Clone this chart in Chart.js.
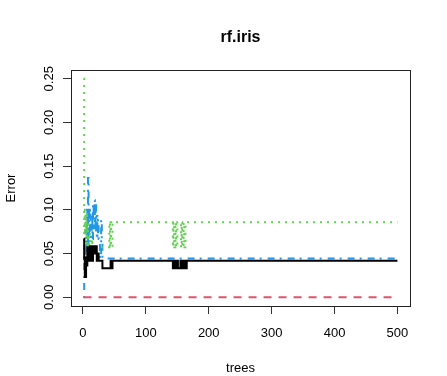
<!DOCTYPE html>
<html>
<head>
<meta charset="utf-8">
<script src="https://cdn.jsdelivr.net/npm/chart.js@4"></script>
<style>
  body { margin: 0; background: #fff; }
  canvas { display: block; }
</style>
</head>
<body>
<canvas id="chart" width="447" height="376"></canvas>
<script>
// randomForest error rates by number of trees (change points only, each value holds until the next tree listed)
const oobTrees = [1, 2, 3, 5, 6, 7, 8, 9, 10, 11, 12, 13, 14, 15, 16, 17, 18, 19, 20, 22, 24, 25, 31, 44, 45, 47,
  143, 144, 145, 146, 147, 150, 151, 155, 156, 158, 160, 162, 163, 165, 500];
const oobErr = [0.0667, 0.0435, 0.0233, 0.0455, 0.0364, 0.0571, 0.0417, 0.05, 0.0417, 0.0583, 0.0417, 0.0583, 0.05, 0.0417, 0.0583, 0.05, 0.0583, 0.05, 0.0583, 0.0417, 0.05, 0.0417, 0.0333, 0.0417, 0.0333, 0.0417,
  0.0333, 0.0417, 0.0333, 0.0417, 0.0333, 0.0417, 0.0333, 0.0417, 0.0333, 0.0417, 0.0333, 0.0417, 0.0333, 0.0417, 0.0417];

const setosaTrees = [1, 500];
const setosaErr = [0, 0];

const versicolorTrees = [1, 2, 3, 4, 5, 6, 7, 8, 10, 11, 14, 15, 42, 43, 44, 45, 47,
  143, 144, 145, 147, 148, 150, 156, 157, 158, 160, 161, 163, 500];
const versicolorErr = [0.25, 0.0588, 0.1, 0.0714, 0.0952, 0.0571, 0.0833, 0.0571, 0.0741, 0.0571, 0.0667, 0.0571, 0.0857, 0.0571, 0.0857, 0.0571, 0.0857,
  0.0571, 0.0857, 0.0571, 0.0857, 0.0571, 0.0857, 0.0571, 0.0857, 0.0571, 0.0857, 0.0571, 0.0857, 0.0857];

const virginicaTrees = [1, 2, 3, 4, 5, 6, 7, 8, 9, 10, 11, 12, 13, 14, 15, 16, 17, 18, 19, 20, 21, 22, 23, 24, 25, 27, 29, 30, 31, 500];
const virginicaErr = [0, 0.0588, 0.0455, 0.0769, 0.0455, 0.1, 0.0588, 0.1364, 0.0625, 0.1, 0.0741, 0.0968, 0.069, 0.0938, 0.0667, 0.1081, 0.0789, 0.1111, 0.0811, 0.1053, 0.0698, 0.093, 0.0682, 0.0889, 0.0667, 0.0444, 0.0889, 0.0667, 0.0444, 0.0444];

const xTicks = [0, 100, 200, 300, 400, 500];
const yTicks = [0, 0.05, 0.1, 0.15, 0.2, 0.25];
const yTickLabels = ['0.00', '0.05', '0.10', '0.15', '0.20', '0.25'];

const FONT = '"Liberation Sans", Arial, sans-serif';

function toPoints(trees, values) {
  return trees.map((t, i) => ({ x: t, y: values[i] }));
}

const series = (label, trees, values, color, dash) => ({
  label,
  data: toPoints(trees, values),
  borderColor: color,
  borderWidth: 2,
  borderDash: dash,
  stepped: true,
  pointRadius: 0,
  fill: false,
});

// box, title and rotated y labels (R style)
const rDecor = {
  id: 'rDecor',
  beforeDraw(chart) {
    const ctx = chart.ctx;
    ctx.save();
    ctx.fillStyle = '#fff';
    ctx.fillRect(0, 0, chart.width, chart.height);
    ctx.restore();
  },
  afterDraw(chart) {
    const { ctx, chartArea } = chart;
    const yScale = chart.scales.y;
    ctx.save();
    ctx.strokeStyle = '#222';
    ctx.lineWidth = 1;
    ctx.strokeRect(Math.round(chartArea.left) + 0.5, Math.round(chartArea.top) + 0.5,
      Math.round(chartArea.right - chartArea.left), Math.round(chartArea.bottom - chartArea.top));

    ctx.fillStyle = '#000';
    ctx.font = 'bold 16px ' + FONT;
    ctx.textAlign = 'center';
    ctx.textBaseline = 'alphabetic';
    ctx.fillText('rf.iris', (chartArea.left + chartArea.right) / 2, 42);

    ctx.font = '13px ' + FONT;
    yTicks.forEach((v, i) => {
      const py = yScale.getPixelForValue(v);
      ctx.save();
      ctx.translate(53, py);
      ctx.rotate(-Math.PI / 2);
      ctx.textAlign = 'center';
      ctx.textBaseline = 'alphabetic';
      ctx.fillText(yTickLabels[i], 0, 0);
      ctx.restore();
    });
    ctx.restore();
  }
};

new Chart(document.getElementById('chart'), {
  type: 'line',
  data: {
    datasets: [
      series('OOB', oobTrees, oobErr, '#000000', []),
      series('setosa', setosaTrees, setosaErr, '#DF536B', [8, 7]),
      series('versicolor', versicolorTrees, versicolorErr, '#61D04F', [2, 5]),
      series('virginica', virginicaTrees, virginicaErr, '#2297E6', [2, 6, 7, 5]),
    ]
  },
  options: {
    responsive: false,
    animation: false,
    devicePixelRatio: 1,
    layout: { padding: { top: 70, right: 37, bottom: 0, left: 0 } },
    plugins: {
      legend: { display: false },
      title: { display: false },
      tooltip: { enabled: false },
    },
    scales: {
      x: {
        type: 'linear',
        min: -18.96,
        max: 519.96,
        afterBuildTicks: (scale) => { scale.ticks = xTicks.map(v => ({ value: v })); },
        afterFit: (scale) => { scale.height = 70; },
        grid: { display: true, drawOnChartArea: false, drawTicks: true, tickLength: 8, color: '#333' },
        border: { display: false },
        ticks: { color: '#000', font: { family: FONT, size: 13 }, padding: 12, maxRotation: 0, autoSkip: false },
        title: { display: true, text: 'trees', color: '#000', font: { family: FONT, size: 13 }, padding: { top: 0, bottom: 0 } },
      },
      y: {
        type: 'linear',
        min: -0.01,
        max: 0.26,
        afterBuildTicks: (scale) => { scale.ticks = yTicks.map(v => ({ value: v })); },
        afterFit: (scale) => { scale.width = 71; },
        grid: { display: true, drawOnChartArea: false, drawTicks: true, tickLength: 8, color: '#333' },
        border: { display: false },
        ticks: { display: false },
        title: { display: true, text: 'Error', color: '#000', font: { family: FONT, size: 13 }, padding: { top: 4, bottom: 0 } },
      }
    }
  },
  plugins: [rDecor]
});
</script>
</body>
</html>
